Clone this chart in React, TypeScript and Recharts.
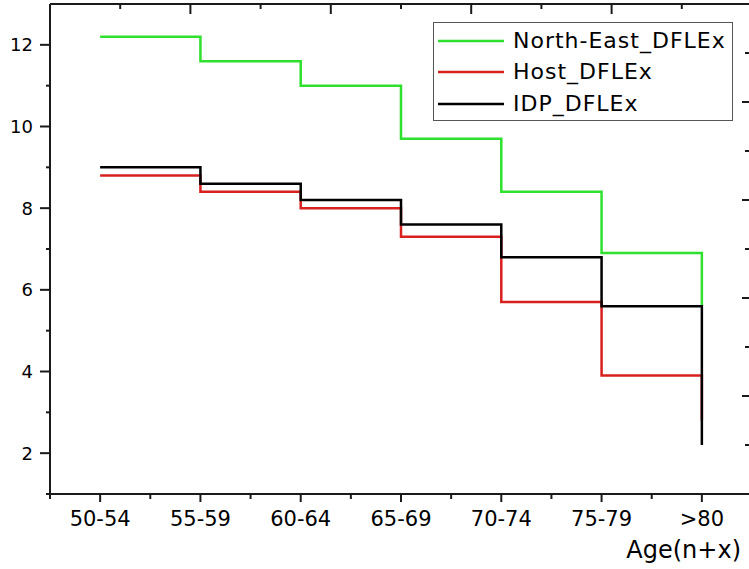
import { LineChart, Line, XAxis, YAxis, Legend } from "recharts";

const categories = ["50-54", "55-59", "60-64", "65-69", "70-74", "75-79", ">80"];
const northEast = [12.2, 11.6, 11.0, 9.7, 8.4, 6.9, 5.6];
const host = [8.8, 8.4, 8.0, 7.3, 5.7, 3.9, 2.8];
const idp = [9.0, 8.6, 8.2, 7.6, 6.8, 5.6, 2.2];

const seriesNames = ["North-East_DFLEx", "Host_DFLEx", "IDP_DFLEx"];
const seriesColors = ["#2fe02f", "#d8201e", "#000000"];

const bottomTicks = [0.5, 1, 1.5, 2, 2.5, 3, 3.5, 4, 4.5, 5, 5.5, 6, 6.5, 7, 7.5];
const leftTicks = [1, 2, 3, 4, 5, 6, 7, 8, 9, 10, 11, 12];
const frameTicks = [0, 1, 2, 3, 4, 5, 6, 7, 8, 9, 10];

const data = categories.map((c, i) => ({
  x: i + 1,
  label: c,
  northEast: northEast[i],
  host: host[i],
  idp: idp[i],
}));

const AXIS = "#1a1a1a";
const FONT = "'DejaVu Sans', sans-serif";

const BottomTick = (props: any) => {
  const { x, y, payload } = props;
  const v = payload.value;
  const major = Number.isInteger(v);
  return (
    <g>
      <line x1={x} x2={x} y1={y} y2={y + (major ? 8 : 5)} stroke={AXIS} strokeWidth={2} />
      {major && (
        <text x={x} y={y + 32} textAnchor="middle" fontSize={21} fontFamily={FONT} fill="#000">
          {categories[v - 1]}
        </text>
      )}
    </g>
  );
};

const LeftTick = (props: any) => {
  const { x, y, payload } = props;
  const v = payload.value;
  const major = v % 2 === 0;
  return (
    <g>
      <line x1={x - (major ? 10 : 4)} x2={x} y1={y} y2={y} stroke={AXIS} strokeWidth={2} />
      {major && (
        <text x={x - 17} y={y + 6.5} textAnchor="end" fontSize={18} fontFamily={FONT} fill="#000">
          {v}
        </text>
      )}
    </g>
  );
};

// frame ticks on the top and right edges point inward
const TopTick = (props: any) => {
  const { x, y, payload } = props;
  const major = payload.value % 2 === 0;
  return (
    <g>
      <line x1={x} x2={x} y1={y} y2={y + (major ? 10 : 5)} stroke={AXIS} strokeWidth={2} />
    </g>
  );
};

const RightTick = (props: any) => {
  const { x, y, payload } = props;
  const major = payload.value % 2 === 0;
  return (
    <g>
      <line x1={x - (major ? 10 : 7)} x2={x} y1={y} y2={y} stroke={AXIS} strokeWidth={2} />
    </g>
  );
};

const LegendBox = (props: any) => {
  const items = seriesNames.map((name) => (props.payload || []).find((e: any) => e.value === name)).filter(Boolean);
  return (
    <div
      style={{
        width: 300,
        height: 99,
        boxSizing: "border-box",
        border: "1px solid #555",
        background: "#fff",
        paddingTop: 2,
        fontFamily: FONT,
      }}
    >
      {items.map((entry: any) => (
        <div key={entry.value} style={{ display: "flex", alignItems: "center", height: 31.5 }}>
          <svg width={75} height={10} style={{ marginLeft: 4 }}>
            <line x1={0} x2={66} y1={5} y2={5} stroke={entry.color} strokeWidth={2.5} />
          </svg>
          <span style={{ fontSize: 22, letterSpacing: 1, color: "#000", lineHeight: 1 }}>{entry.value}</span>
        </div>
      ))}
    </div>
  );
};

export default function App() {
  return (
    <div style={{ position: "absolute", left: 0, top: 0, width: 749, height: 569, overflow: "hidden", background: "#fff" }}>
      <LineChart width={760} height={569} data={data} margin={{ top: 3, right: 7, bottom: 0, left: 0 }}>
        <XAxis
          xAxisId="b"
          dataKey="x"
          type="number"
          domain={[0.5, 7.5]}
          allowDataOverflow
          ticks={bottomTicks}
          interval={0}
          height={75}
          tickSize={0}
          tickMargin={0}
          tickLine={false}
          axisLine={{ stroke: AXIS, strokeWidth: 2 }}
          tick={(p: any) => <BottomTick {...p} />}
          label={{ value: "Age(n+x)", position: "insideBottomRight", offset: 11, fontSize: 24, fill: "#000", fontFamily: FONT }}
        />
        <XAxis
          xAxisId="t"
          dataKey="x"
          orientation="top"
          type="number"
          domain={[0, 10]}
          allowDataOverflow
          ticks={frameTicks}
          interval={0}
          height={1}
          tickSize={0}
          tickMargin={0}
          tickLine={false}
          axisLine={{ stroke: AXIS, strokeWidth: 2 }}
          tick={(p: any) => <TopTick {...p} />}
        />
        <YAxis
          yAxisId="l"
          type="number"
          domain={[1, 13]}
          allowDataOverflow
          ticks={leftTicks}
          interval={0}
          width={50}
          tickSize={0}
          tickMargin={0}
          tickLine={false}
          axisLine={{ stroke: AXIS, strokeWidth: 2 }}
          tick={(p: any) => <LeftTick {...p} />}
        />
        <YAxis
          yAxisId="r"
          orientation="right"
          type="number"
          domain={[0, 10]}
          allowDataOverflow
          ticks={frameTicks}
          interval={0}
          width={1}
          tickSize={0}
          tickMargin={0}
          tickLine={false}
          axisLine={{ stroke: AXIS, strokeWidth: 2 }}
          tick={(p: any) => <RightTick {...p} />}
        />
        <Legend
          layout="horizontal"
          verticalAlign="middle"
          align="center"
          content={(p: any) => <LegendBox {...p} />}
          wrapperStyle={{ left: 433, top: 22, width: 300 }}
        />
        {/* invisible series so the frame axes (top/right) get their ticks */}
        <Line xAxisId="t" yAxisId="r" dataKey="x" stroke="none" legendType="none" dot={false} activeDot={false} isAnimationActive={false} />
        <Line xAxisId="b" yAxisId="l" type="stepAfter" dataKey="northEast" name={seriesNames[0]} stroke={seriesColors[0]} strokeWidth={2.5} dot={false} isAnimationActive={false} />
        <Line xAxisId="b" yAxisId="l" type="stepAfter" dataKey="host" name={seriesNames[1]} stroke={seriesColors[1]} strokeWidth={2.5} dot={false} isAnimationActive={false} />
        <Line xAxisId="b" yAxisId="l" type="stepAfter" dataKey="idp" name={seriesNames[2]} stroke={seriesColors[2]} strokeWidth={2.5} dot={false} isAnimationActive={false} />
      </LineChart>
    </div>
  );
}
